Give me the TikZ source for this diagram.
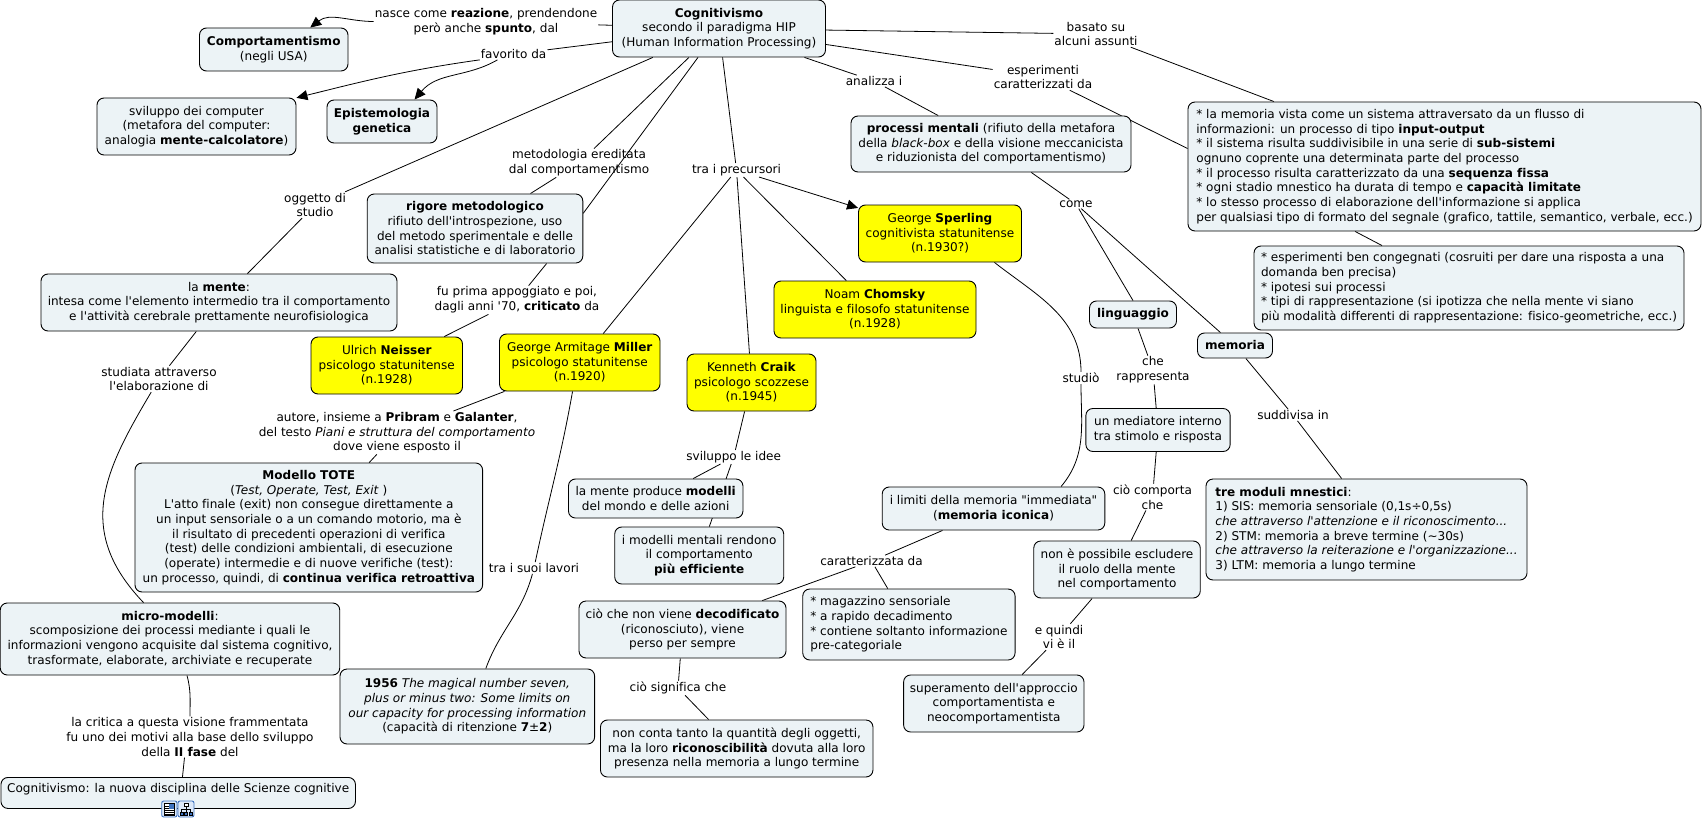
\documentclass[tikz,border=0pt]{standalone}
\usepackage{fontspec}
\usetikzlibrary{arrows.meta,backgrounds}
\newfontfamily\mapfont[Ligatures=NoCommon]{DejaVu Sans}
\definecolor{conceptfill}{RGB}{236,243,246}
\definecolor{scholarfill}{RGB}{255,255,0}
\definecolor{iconblue}{RGB}{63,115,192}
\definecolor{iconfill}{RGB}{220,232,248}
\begin{document}
\begin{tikzpicture}[x=1pt,y=-1pt,>={Triangle[length=11pt,width=10pt]},
    link/.style={black,line width=0.8pt},
    concept/.style={draw=black,line width=0.9pt,fill=conceptfill,rounded corners=7pt,inner sep=0pt,align=center,font=\mapfont\fontsize{12.05}{14.67}\selectfont},
    scholar/.style={concept,fill=scholarfill},
    phrase/.style={inner sep=1pt,align=center,font=\mapfont\fontsize{12.05}{14.67}\selectfont},
    iconbox/.style={draw=iconblue,line width=0.9pt,fill=iconfill,rounded corners=2pt}]

    \useasboundingbox (0,0) rectangle (1704,821);

    \node[concept,minimum width=213pt,minimum height=57pt] (cog) at (719,28.5) {\textbf{Cognitivismo}\\secondo il paradigma HIP\\(Human Information Processing)};
    \node[concept,minimum width=148.5pt,minimum height=43pt] (comp) at (273.75,49.5) {\textbf{Comportamentismo}\\(negli USA)};
    \node[concept,minimum width=199pt,minimum height=57pt] (svil) at (196.5,126.5) {sviluppo dei computer\\(metafora del computer:\\analogia \textbf{mente-calcolatore})};
    \node[concept,minimum width=110pt,minimum height=43pt] (epi) at (382,121.5) {\textbf{Epistemologia}\\\textbf{genetica}};
    \node[concept,minimum width=215.6pt,minimum height=69pt] (rig) at (475,228.5) {\textbf{rigore metodologico}\\rifiuto dell'introspezione, uso\\del metodo sperimentale e delle\\analisi statistiche e di laboratorio};
    \node[concept,minimum width=356pt,minimum height=57pt] (mente) at (219,302.5) {la \textbf{mente}:\\intesa come l'elemento intermedio tra il comportamento\\e l'attività cerebrale prettamente neurofisiologica};
    \node[scholar,minimum width=151.5pt,minimum height=57pt] (neisser) at (386.75,365.5) {Ulrich \textbf{Neisser}\\psicologo statunitense\\(n.1928)};
    \node[scholar,minimum width=160.5pt,minimum height=57pt] (miller) at (579.75,362.5) {George Armitage \textbf{Miller}\\psicologo statunitense\\(n.1920)};
    \node[scholar,minimum width=129pt,minimum height=57pt] (craik) at (751.5,382.5) {Kenneth \textbf{Craik}\\psicologo scozzese\\(n.1945)};
    \node[scholar,minimum width=202pt,minimum height=57pt] (chomsky) at (875,309.5) {Noam \textbf{Chomsky}\\linguista e filosofo statunitense\\(n.1928)};
    \node[scholar,minimum width=163pt,minimum height=57pt] (sperling) at (940,233.5) {George \textbf{Sperling}\\cognitivista statunitense\\(n.1930?)};
    \node[concept,minimum width=280pt,minimum height=56pt] (proc) at (991,144) {\textbf{processi mentali} (rifiuto della metafora\\della \textit{black-box}  e della visione meccanicista\\e riduzionista del comportamentismo)};
    \node[concept,minimum width=513pt,minimum height=129pt,align=left] (assunti) at (1444.5,166.5) {* la memoria vista come un sistema attraversato da un flusso di\\informazioni: un processo di tipo \textbf{input-output}\\* il sistema risulta suddivisibile in una serie di \textbf{sub-sistemi}\\ognuno coprente una determinata parte del processo\\* il processo risulta caratterizzato da una \textbf{sequenza fissa}\\* ogni stadio mnestico ha durata di tempo e \textbf{capacità limitate}\\* lo stesso processo di elaborazione dell'informazione si applica\\per qualsiasi tipo di formato del segnale (grafico, tattile, semantico, verbale, ecc.)};
    \node[concept,minimum width=430pt,minimum height=84pt,align=left] (esper) at (1469,288) {* esperimenti ben congegnati (cosruiti per dare una risposta a una\\domanda ben precisa)\\* ipotesi sui processi\\* tipi di rappresentazione (si ipotizza che nella mente vi siano\\più modalità differenti di rappresentazione: fisico-geometriche, ecc.)};
    \node[concept,minimum width=87pt,minimum height=27pt] (ling) at (1133,314.5) {\textbf{linguaggio}};
    \node[concept,minimum width=75pt,minimum height=25pt] (mem) at (1235,345.5) {\textbf{memoria}};
    \node[concept,minimum width=144.3pt,minimum height=43pt] (medi) at (1158,430) {un mediatore interno\\tra stimolo e risposta};
    \node[concept,minimum width=222.6pt,minimum height=43pt] (limiti) at (993.5,508.5) {i limiti della memoria "immediata"\\(\textbf{memoria iconica})};
    \node[concept,minimum width=166.5pt,minimum height=57pt] (escl) at (1117,569.5) {non è possibile escludere\\il ruolo della mente\\nel comportamento};
    \node[concept,minimum width=321pt,minimum height=101pt,align=left] (moduli) at (1366.5,529.5) {\textbf{tre moduli mnestici}:\\1) SIS: memoria sensoriale (0,1s÷0,5s)\\\textit{che attraverso l'attenzione e il riconoscimento...}\\2) STM: memoria a breve termine (\textasciitilde30s)\\\textit{che attraverso la reiterazione e l'organizzazione...}\\3) LTM: memoria a lungo termine};
    \node[concept,minimum width=212.3pt,minimum height=71pt,align=left] (magaz) at (908.9,624.5) {* magazzino sensoriale\\* a rapido decadimento\\* contiene soltanto informazione\\pre-categoriale};
    \node[concept,minimum width=180.4pt,minimum height=57pt] (super) at (993.8,703.5) {superamento dell'approccio\\comportamentista e\\neocomportamentista};
    \node[concept,minimum width=272.5pt,minimum height=57pt] (conta) at (736.7,748.5) {non conta tanto la quantità degli oggetti,\\ma la loro \textbf{riconoscibilità} dovuta alla loro\\presenza nella memoria a lungo termine};
    \node[concept,minimum width=347.6pt,minimum height=129pt] (tote) at (308.8,527.5) {\textbf{Modello TOTE}\\(\textit{Test, Operate, Test, Exit} )\\L'atto finale (exit) non consegue direttamente a\\un input sensoriale o a un comando motorio, ma è\\il risultato di precedenti operazioni di verifica\\(test) delle condizioni ambientali, di esecuzione\\(operate) intermedie e di nuove verifiche (test):\\un processo, quindi, di \textbf{continua verifica retroattiva}};
    \node[concept,minimum width=174.5pt,minimum height=39pt] (prod) at (655.7,498.5) {la mente produce \textbf{modelli}\\del mondo e delle azioni};
    \node[concept,minimum width=169pt,minimum height=57pt] (effic) at (699.2,555.5) {i modelli mentali rendono\\il comportamento\\\textbf{più efficiente}};
    \node[concept,minimum width=339.5pt,minimum height=72pt] (micro) at (170,639) {\textbf{micro-modelli}:\\scomposizione dei processi mediante i quali le\\informazioni vengono acquisite dal sistema cognitivo,\\trasformate, elaborate, archiviate e recuperate};
    \node[concept,minimum width=254.6pt,minimum height=75pt] (magic) at (467.3,706.5) {\textbf{1956} \textit{The magical number seven,}\\\textit{plus or minus two: Some limits on}\\\textit{our capacity for processing information}\\(capacità di ritenzione \textbf{7}±\textbf{2})};
    \node[concept,minimum width=207pt,minimum height=57pt] (decod) at (682.5,629.5) {ciò che non viene \textbf{decodificato}\\(riconosciuto), viene\\perso per sempre};
    \node[concept,minimum width=354.5pt,minimum height=31pt,anchor=north west,text depth=10pt] (nuova) at (0.5,777) {Cognitivismo: la nuova disciplina delle Scienze cognitive};

    \node[phrase] (nasce) at (486,21.5) {nasce come \textbf{reazione}, prendendone\\però anche \textbf{spunto}, dal};
    \node[phrase] (favorito) at (513.6,54) {favorito da};
    \node[phrase] (oggetto) at (315,205) {oggetto di\\studio};
    \node[phrase] (metodo) at (579,163) {metodologia ereditata\\dal comportamentismo};
    \node[phrase] (precur) at (736.5,170) {tra i precursori};
    \node[phrase] (analizza) at (874,81) {analizza i};
    \node[phrase] (caratt) at (1043,77) {esperimenti\\caratterizzati da};
    \node[phrase] (basato) at (1096,34) {basato su\\alcuni assunti};
    \node[phrase] (come) at (1076,204) {come};
    \node[phrase] (studio) at (1081,378) {studiò};
    \node[phrase] (rappr) at (1153,370) {che\\rappresenta};
    \node[phrase] (suddiv) at (1293,415) {suddivisa in};
    \node[phrase] (comporta) at (1152.5,497) {ciò comporta\\che};
    \node[phrase] (quindi) at (1059,637) {e quindi\\vi è il};
    \node[phrase] (caratta) at (871.5,561) {caratterizzata da};
    \node[phrase] (signif) at (678,688) {ciò significa che};
    \node[phrase] (idee) at (733.7,457) {sviluppo le idee};
    \node[phrase] (lavori) at (534,568) {tra i suoi lavori};
    \node[phrase] (autore) at (397,432.7) {autore, insieme a \textbf{Pribram} e \textbf{Galanter},\\del testo \textit{Piani e struttura del comportamento}\\dove viene esposto il};
    \node[phrase] (attrav) at (159,379) {studiata attraverso\\l'elaborazione di};
    \node[phrase] (appogg) at (517,300) {fu prima appoggiato e poi,\\dagli anni '70, \textbf{criticato} da};
    \node[phrase] (critica) at (190,737) {la critica a questa visione frammentata\\fu uno dei motivi alla base dello sviluppo\\della \textbf{II fase} del};

    \begin{scope}[on background layer]
        \draw[link] (cog) -- (nasce);
        \draw[link,->] (nasce) to[out=180,in=38] (comp.31);
        \draw[link] (cog) -- (favorito);
        \draw[link,->] (favorito.south west) to[out=188,in=14] (svil.16);
        \draw[link,->] (favorito.200) to[out=210,in=50] (epi.34);
        \draw[link] (cog) -- (oggetto);
        \draw[link] (oggetto) -- (mente);
        \draw[link] (cog) -- (metodo);
        \draw[link] (metodo) -- (rig);
        \draw[link] (cog.234) -- (rig.8);
        \draw[link] (rig.-26) -- (appogg);
        \draw[link] (appogg) -- (neisser);
        \draw[link] (cog) -- (precur);
        \draw[link] (precur) -- (craik);
        \draw[link,->] (precur) -- (sperling);
        \draw[link] (precur) -- (miller);
        \draw[link] (precur) -- (chomsky);
        \draw[link] (cog) -- (analizza);
        \draw[link] (analizza) -- (proc);
        \draw[link] (cog) -- (caratt);
        \draw[link] (caratt) -- (assunti.176);
        \draw[link] (cog) -- (basato);
        \draw[link] (basato) -- (assunti);
        \draw[link] (assunti.216) -- (esper.154);
        \draw[link] (proc) -- (come);
        \draw[link] (come) -- (ling.north);
        \draw[link] (come) -- (mem);
        \draw[link] (ling) -- (rappr);
        \draw[link] (rappr) -- (medi);
        \draw[link] (medi) -- (comporta);
        \draw[link] (comporta) -- (escl);
        \draw[link] (escl) -- (quindi);
        \draw[link] (quindi) -- (super);
        \draw[link] (mem) -- (suddiv);
        \draw[link] (suddiv) -- (moduli.116);
        \draw[link] (sperling.-28) to[out=-38,in=90] (studio.north);
        \draw[link] (studio.south) to[out=-90,in=50] (limiti.18);
        \draw[link] (limiti) -- (caratta);
        \draw[link] (caratta) -- (decod);
        \draw[link] (caratta) -- (magaz);
        \draw[link] (decod) -- (signif);
        \draw[link] (signif) -- (conta);
        \draw[link] (craik) -- (idee);
        \draw[link] (idee) -- (prod);
        \draw[link] (idee) -- (effic);
        \draw[link] (miller) -- (autore);
        \draw[link] (autore) -- (tote);
        \draw[link] (miller.-104) to[out=-100,in=78] (lavori);
        \draw[link] (lavori) to[out=-105,in=70] (magic.64);
        \draw[link] (mente) -- (attrav);
        \draw[link] (attrav) .. controls (105,470) and (74,530) .. (micro.126);
        \draw[link] (micro.-65) to[out=-75,in=90] (critica.north);
        \draw[link] (critica.-105) -- (nuova.75);
    \end{scope}

    \draw[iconbox] (161.7,801) rectangle (177,817);
    \draw[black,fill=white,line width=0.5pt] (164,803) rectangle (174.5,815);
    \fill[iconblue] (169,804) rectangle (173.5,808.5);
    \foreach \ly in {806,808,810,812,814}{
        \draw[black,line width=0.4pt] (165,\ly) -- (168.5,\ly);
    }
    \foreach \ly in {810,812,814}{
        \draw[black,line width=0.4pt] (168.5,\ly) -- (173.5,\ly);
    }
    \draw[iconbox] (178,801) rectangle (194,817);
    \draw[black,line width=0.5pt] (186,806) -- (186,813) (181.5,813) -- (181.5,809.5) -- (190.5,809.5) -- (190.5,813);
    \draw[black,fill=white,line width=0.5pt] (184,803) rectangle (188,806);
    \draw[black,fill=iconblue,line width=0.5pt] (180,812.5) rectangle (183,815.5);
    \draw[black,fill=iconblue,line width=0.5pt] (184.5,812.5) rectangle (187.5,815.5);
    \draw[black,fill=iconblue,line width=0.5pt] (189,812.5) rectangle (192,815.5);

\end{tikzpicture}
\end{document}
